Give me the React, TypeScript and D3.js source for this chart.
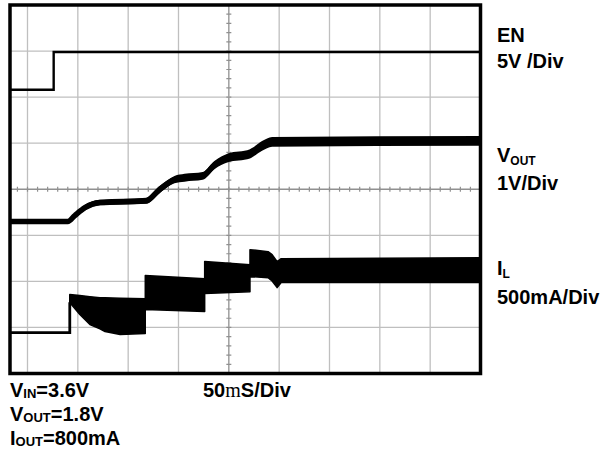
import React from 'react';
import * as d3 from 'd3';

// ---- axes / grid (oscilloscope: 50 ms/div horizontally, 8 vertical divisions) ----
const gridTimesMs = [0, 50, 100, 150, 200, 250, 300, 350, 400, 450];
const gridDivs = [0, 1, 2, 3, 4, 5, 6, 7, 8];
const minorTimesMs = d3.range(-10, 451, 10);
const minorDivs = d3.range(0, 8.01, 0.2);

// ---- EN channel (5 V/div) ----
const EN_OFFSET_DIV = 6.16;
const EN_V_PER_DIV = 5;
const enTime = [-30, 26, 26, 460];
const enVolts = [0, 0, 4.1, 4.1];

// ---- VOUT channel (1 V/div) ----
const VOUT_OFFSET_DIV = 3.3;
const VOUT_V_PER_DIV = 1;
const voutTime = [-30, 40, 47, 57, 72, 118, 131, 146, 156, 174, 186, 199, 221, 233, 243, 460];
const voutVolts = [0, 0, 0.13, 0.3, 0.41, 0.45, 0.69, 0.91, 0.95, 0.99, 1.23, 1.38, 1.47, 1.64, 1.73, 1.75];
const voutRipple = [0.1, 0.1, 0.11, 0.12, 0.12, 0.13, 0.15, 0.16, 0.17, 0.17, 0.18, 0.19, 0.2, 0.21, 0.21, 0.21];

// ---- IL channel (500 mA/div) ----
const IL_OFFSET_DIV = 0.889;
const IL_MA_PER_DIV = 500;
const ilIdleTime = [-30, 42, 42];
const ilIdleMa = [0, 0, 330];
const ilTime = [42, 52, 62, 72, 77, 92, 117, 117, 176, 176, 221, 221, 239, 243, 248, 252, 460];
const ilHigh = [412, 401, 390, 379, 377, 372, 368, 618, 585, 770, 737, 900, 878, 845, 770, 802, 813];
const ilLow = [325, 195, 87, 40, 11, -22, -11, 249, 228, 423, 444, 607, 596, 560, 488, 542, 542];

// ---- labels ----
const FONT = "'Liberation Sans', Arial, Helvetica, sans-serif";

export default function App() {
  const W = 608, H = 459;
  const left = 10, right = 480.5, top = 5, bottom = 373.5;
  const x = d3.scaleLinear().domain([0, 450]).range([27.5, right]);
  const y = d3.scaleLinear().domain([0, 8]).range([bottom, top]);

  const yEn = (v: number) => y(EN_OFFSET_DIV + v / EN_V_PER_DIV);
  const yV = (v: number) => y(VOUT_OFFSET_DIV + v / VOUT_V_PER_DIV);
  const yI = (v: number) => y(IL_OFFSET_DIV + v / IL_MA_PER_DIV);

  const enPath = d3.line<number>().x((_, i) => x(enTime[i])).y((v) => yEn(v))(enVolts) || '';
  const voutLine = d3.line<number>().x((_, i) => x(voutTime[i])).y((v) => yV(v)).curve(d3.curveMonotoneX)(voutVolts) || '';
  const voutArea = d3
    .area<number>()
    .x((_, i) => x(voutTime[i]))
    .y0((v, i) => yV(v - voutRipple[i] / 2))
    .y1((v, i) => yV(v + voutRipple[i] / 2))
    .curve(d3.curveMonotoneX)(voutVolts) || '';
  const ilIdlePath = d3.line<number>().x((_, i) => x(ilIdleTime[i])).y((v) => yI(v))(ilIdleMa) || '';
  const ilArea = d3
    .area<number>()
    .x((_, i) => x(ilTime[i]))
    .y0((_, i) => yI(ilLow[i]))
    .y1((v) => yI(v))(ilHigh) || '';

  const gridColor = '#bfbfbf';
  const centerColor = '#909090';
  const xc = x(200);
  const yc = y(4);

  return (
    <svg width={W} height={H} style={{ position: 'absolute', left: 0, top: 0, background: '#fff' }}>
      <defs>
        <clipPath id="plot">
          <rect x={left} y={top} width={right - left} height={bottom - top} />
        </clipPath>
      </defs>
      <g clipPath="url(#plot)">
        {gridTimesMs.map((t) => (
          <line key={'gx' + t} x1={x(t)} x2={x(t)} y1={top} y2={bottom} stroke={t === 200 ? centerColor : gridColor} strokeWidth={1.3} />
        ))}
        {gridDivs.map((d) => (
          <line key={'gy' + d} x1={left} x2={right} y1={y(d)} y2={y(d)} stroke={d === 4 ? centerColor : gridColor} strokeWidth={1.3} />
        ))}
        {minorTimesMs.map((t) => (
          <line key={'mx' + t} x1={x(t)} x2={x(t)} y1={yc - 2.5} y2={yc + 2.5} stroke={centerColor} strokeWidth={1.2} />
        ))}
        {minorDivs.map((d, i) => (
          <line key={'my' + i} x1={xc - 2.5} x2={xc + 2.5} y1={y(d)} y2={y(d)} stroke={centerColor} strokeWidth={1.2} />
        ))}

        <path d={enPath} fill="none" stroke="#000" strokeWidth={2.4} />
        <path d={voutArea} fill="#000" />
        <path d={voutLine} fill="none" stroke="#000" strokeWidth={5.5} strokeLinejoin="round" />
        <path d={ilIdlePath} fill="none" stroke="#000" strokeWidth={2.8} />
        <path d={ilArea} fill="#000" stroke="#000" strokeWidth={1.5} strokeLinejoin="round" />
      </g>
      <rect x={left} y={top} width={right - left} height={bottom - top} fill="none" stroke="#000" strokeWidth={3.5} />

      <g fontFamily={FONT} fontWeight="bold" fontSize={20} fill="#000">
        <text x={497} y={42}>EN</text>
        <text x={497} y={68}>5V /Div</text>
        <text x={497} y={162}>
          V<tspan fontSize={12} dy={3}>OUT</tspan>
        </text>
        <text x={497} y={190}>1V/Div</text>
        <text x={497} y={275}>
          I<tspan fontSize={12} dy={3}>L</tspan>
        </text>
        <text x={497} y={304}>500mA/Div</text>

        <text x={10} y={397}>
          V<tspan fontSize={13} dy={1}>IN</tspan><tspan dy={-1}>=3.6V</tspan>
        </text>
        <text x={10} y={421}>
          V<tspan fontSize={13} dy={1}>OUT</tspan><tspan dy={-1}>=1.8V</tspan>
        </text>
        <text x={10} y={445}>
          I<tspan fontSize={13} dy={1}>OUT</tspan><tspan dy={-1}>=800mA</tspan>
        </text>
        <text x={203} y={397}>
          50<tspan fontFamily="'Liberation Serif', 'Times New Roman', serif" fontWeight="normal">m</tspan>S/Div
        </text>
      </g>
    </svg>
  );
}
